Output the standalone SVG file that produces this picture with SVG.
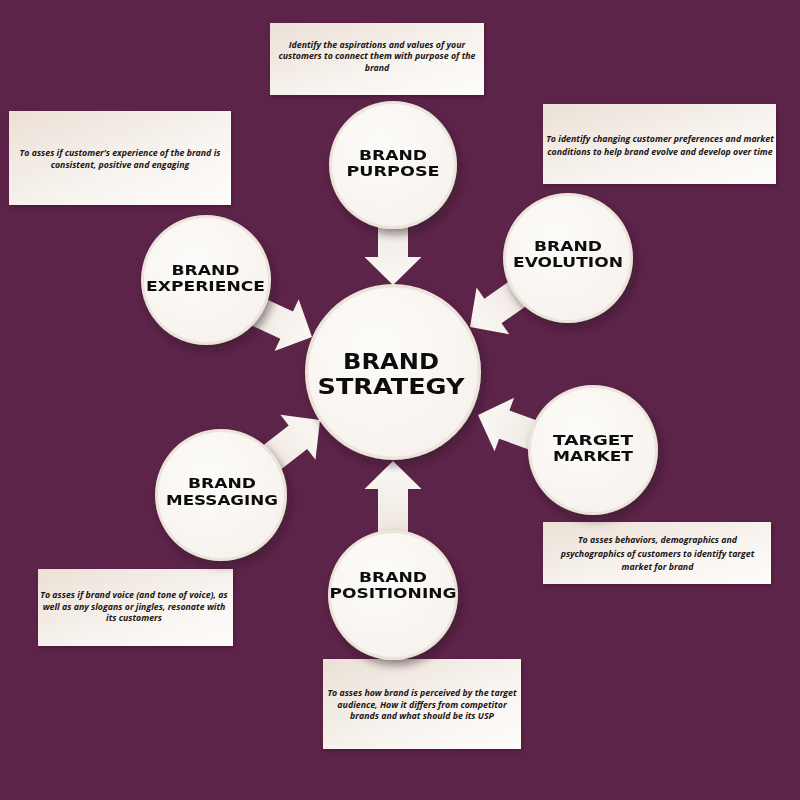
<svg xmlns="http://www.w3.org/2000/svg" width="800" height="800" viewBox="0 0 800 800">
  <defs>
    <linearGradient id="boxGrad" x1="0" y1="0" x2="1" y2="1">
      <stop offset="0" stop-color="#ebe0d6"/>
      <stop offset="0.6" stop-color="#f8f4f0"/>
      <stop offset="1" stop-color="#fefdfb"/>
    </linearGradient>
    <linearGradient id="arrowGrad" x1="0" y1="0" x2="1" y2="0">
      <stop offset="0" stop-color="#e6dbd2"/>
      <stop offset="0.5" stop-color="#f1ebe5"/>
      <stop offset="1" stop-color="#fbf8f5"/>
    </linearGradient>
    <radialGradient id="circGrad" cx="0.4" cy="0.35" r="0.7">
      <stop offset="0" stop-color="#fdfcfa"/>
      <stop offset="1" stop-color="#f7f2ed"/>
    </radialGradient>
    <filter id="shadow" x="-20%" y="-20%" width="150%" height="150%">
      <feDropShadow dx="3" dy="5" stdDeviation="4" flood-color="#2a0a1e" flood-opacity="0.5"/>
    </filter>
    <filter id="boxShadow" x="-10%" y="-10%" width="120%" height="130%">
      <feDropShadow dx="1" dy="2" stdDeviation="2" flood-color="#2a0a1e" flood-opacity="0.35"/>
    </filter>
    <path id="arrowShape" d="M0,0 L-28,-28.5 L-28,-15 L-110,-15 L-110,15 L-28,15 L-28,28.5 Z"/>
  </defs>
  <style>
    .box { fill: url(#boxGrad); filter: url(#boxShadow); }
    .desc { font-family: "Open Sans", Lato, sans-serif; font-style: italic; font-weight: bold; font-size: 8.8px; fill: #1b1616; text-anchor: middle; }
    .rim { fill: #ece4db; }
    .face { fill: url(#circGrad); }
    .lbl { font-family: "DejaVu Sans", sans-serif; font-weight: bold; font-size: 14px; fill: #111; text-anchor: middle; }
    .big { font-family: "DejaVu Sans", sans-serif; font-weight: bold; font-size: 22px; fill: #111; text-anchor: middle; }
    .arrow { fill: url(#arrowGrad); }
  </style>

  <rect x="0" y="0" width="800" height="800" fill="#5d2449"/>

  <g id="desc-boxes">
    <g id="box-purpose">
      <rect class="box" x="270" y="23" width="214" height="72"/>
      <text class="desc" x="377" y="47.5">Identify the aspirations and values of your</text>
      <text class="desc" x="377" y="59">customers to connect them with purpose of the</text>
      <text class="desc" x="377" y="70.5">brand</text>
    </g>
    <g id="box-experience">
      <rect class="box" x="9" y="111" width="222" height="94"/>
      <text class="desc" x="120" y="156">To asses if customer’s experience of the brand is</text>
      <text class="desc" x="120" y="167.5">consistent, positive and engaging</text>
    </g>
    <g id="box-evolution">
      <rect class="box" x="543" y="104" width="233" height="80"/>
      <text class="desc" x="660" y="142">To identify changing customer preferences and market</text>
      <text class="desc" x="660" y="154.5">conditions to help brand evolve and develop over time</text>
    </g>
    <g id="box-target">
      <rect class="box" x="543" y="522" width="228" height="62"/>
      <text class="desc" x="657.5" y="543">To asses behaviors, demographics and</text>
      <text class="desc" x="657.5" y="557">psychographics of customers to identify target</text>
      <text class="desc" x="657.5" y="570">market for brand</text>
    </g>
    <g id="box-messaging">
      <rect class="box" x="38" y="569" width="195" height="77"/>
      <text class="desc" x="134" y="598">To asses if brand voice (and tone of voice), as</text>
      <text class="desc" x="134" y="609.5">well as any slogans or jingles, resonate with</text>
      <text class="desc" x="134" y="621">its customers</text>
    </g>
    <g id="box-positioning">
      <rect class="box" x="323" y="659" width="198" height="90"/>
      <text class="desc" x="422" y="696">To asses how brand is perceived by the target</text>
      <text class="desc" x="422" y="707.5">audience,  How it differs from competitor</text>
      <text class="desc" x="422" y="719">brands and what should be its USP</text>
    </g>
  </g>

  <g id="connectors">
    <use href="#arrowShape" class="arrow" transform="translate(393,285) rotate(90)"/>
    <use href="#arrowShape" class="arrow" transform="translate(393,461) rotate(-90)"/>
    <use href="#arrowShape" class="arrow" transform="translate(312,337) rotate(25)"/>
    <use href="#arrowShape" class="arrow" transform="translate(470,327) rotate(145)"/>
    <use href="#arrowShape" class="arrow" transform="translate(478,415) rotate(200)"/>
    <use href="#arrowShape" class="arrow" transform="translate(320,420) rotate(-38)"/>
  </g>

  <g id="node-purpose" filter="url(#shadow)">
    <circle class="rim" cx="393" cy="165" r="64"/>
    <circle class="face" cx="393" cy="165" r="61"/>
    <text class="lbl" x="393" y="159.5" textLength="68" lengthAdjust="spacingAndGlyphs">BRAND</text>
    <text class="lbl" x="393" y="176" textLength="93" lengthAdjust="spacingAndGlyphs">PURPOSE</text>
  </g>
  <g id="node-experience" filter="url(#shadow)">
    <circle class="rim" cx="206" cy="280" r="65"/>
    <circle class="face" cx="206" cy="280" r="62"/>
    <text class="lbl" x="205.5" y="274.5" textLength="68" lengthAdjust="spacingAndGlyphs">BRAND</text>
    <text class="lbl" x="205.5" y="290.5" textLength="119" lengthAdjust="spacingAndGlyphs">EXPERIENCE</text>
  </g>
  <g id="node-evolution" filter="url(#shadow)">
    <circle class="rim" cx="568" cy="258" r="65"/>
    <circle class="face" cx="568" cy="258" r="62"/>
    <text class="lbl" x="568" y="250.5" textLength="68" lengthAdjust="spacingAndGlyphs">BRAND</text>
    <text class="lbl" x="568" y="267" textLength="110" lengthAdjust="spacingAndGlyphs">EVOLUTION</text>
  </g>
  <g id="node-target" filter="url(#shadow)">
    <circle class="rim" cx="593" cy="450" r="65"/>
    <circle class="face" cx="593" cy="450" r="62"/>
    <text class="lbl" x="593" y="444.5" textLength="80" lengthAdjust="spacingAndGlyphs">TARGET</text>
    <text class="lbl" x="593" y="461" textLength="80" lengthAdjust="spacingAndGlyphs">MARKET</text>
  </g>
  <g id="node-messaging" filter="url(#shadow)">
    <circle class="rim" cx="221" cy="495" r="66"/>
    <circle class="face" cx="221" cy="495" r="63"/>
    <text class="lbl" x="222" y="488" textLength="68" lengthAdjust="spacingAndGlyphs">BRAND</text>
    <text class="lbl" x="222" y="505" textLength="112" lengthAdjust="spacingAndGlyphs">MESSAGING</text>
  </g>
  <g id="node-positioning" filter="url(#shadow)">
    <circle class="rim" cx="393" cy="595" r="65"/>
    <circle class="face" cx="393" cy="595" r="62"/>
    <text class="lbl" x="393" y="581.5" textLength="68" lengthAdjust="spacingAndGlyphs">BRAND</text>
    <text class="lbl" x="393" y="598" textLength="127" lengthAdjust="spacingAndGlyphs">POSITIONING</text>
  </g>
  <g id="node-strategy" filter="url(#shadow)">
    <circle class="rim" cx="393" cy="372" r="88"/>
    <circle class="face" cx="393" cy="372" r="84.5"/>
    <text class="big" x="391" y="369" textLength="96" lengthAdjust="spacingAndGlyphs">BRAND</text>
    <text class="big" x="391" y="394" textLength="147" lengthAdjust="spacingAndGlyphs">STRATEGY</text>
  </g>
</svg>
